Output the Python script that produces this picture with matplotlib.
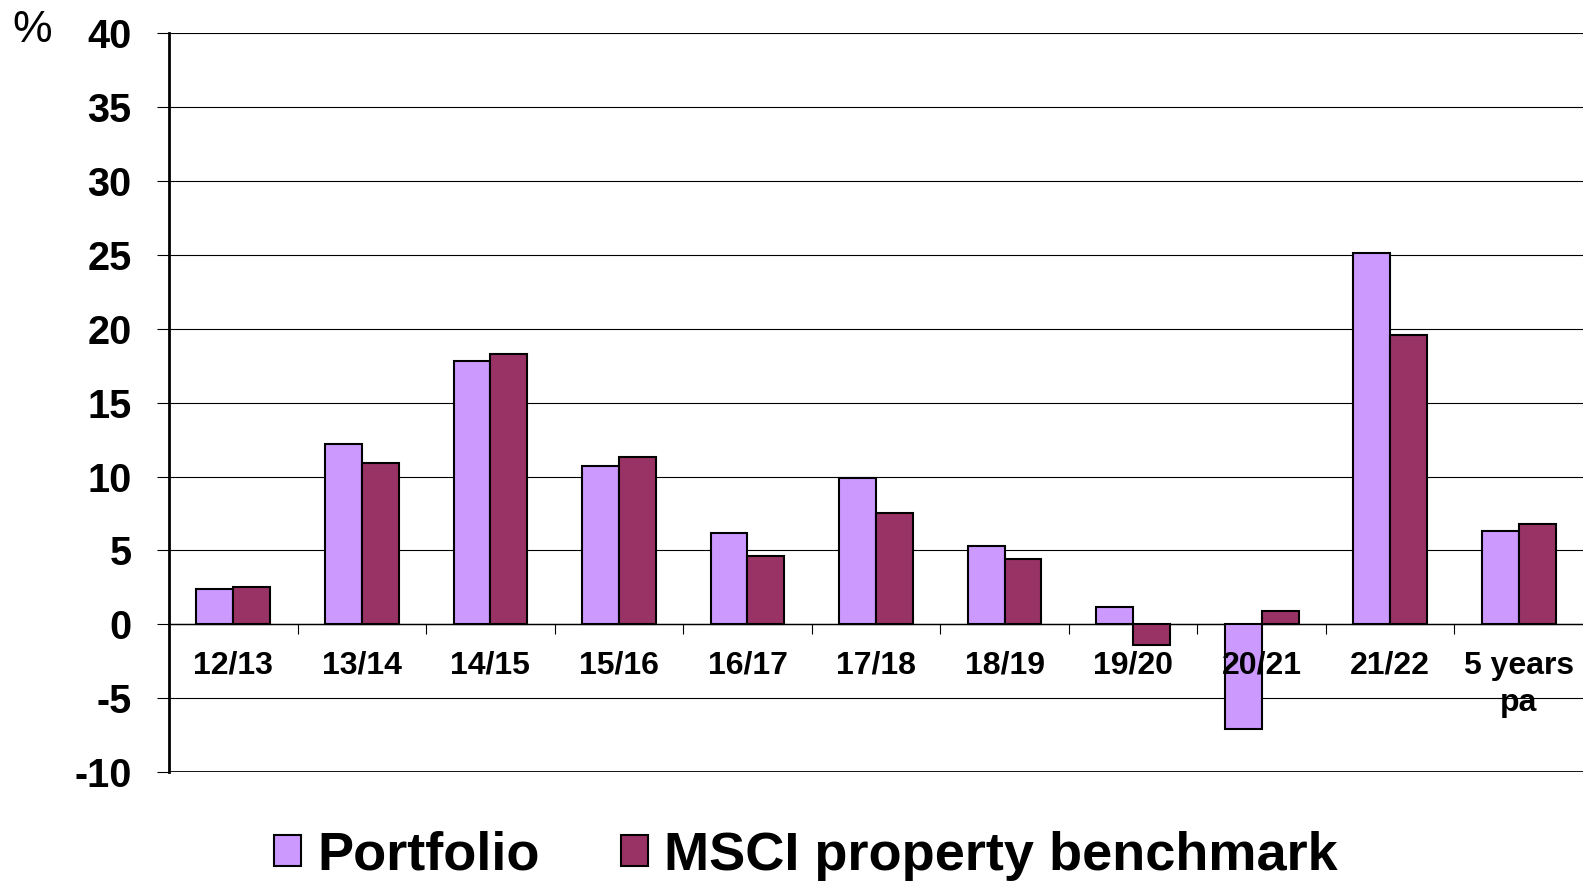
# Portfolio vs MSCI property benchmark, annual returns.
# Output: out.png

import matplotlib.pyplot as plt
import numpy as np

CATEGORIES = ["12/13", "13/14", "14/15", "15/16", "16/17", "17/18",
              "18/19", "19/20", "20/21", "21/22", "5 years\npa"]
PORTFOLIO = [2.4, 12.2, 17.8, 10.7, 6.2, 9.9, 5.3, 1.2, -7.1, 25.1, 6.3]
BENCHMARK = [2.5, 10.9, 18.3, 11.3, 4.6, 7.5, 4.4, -1.4, 0.9, 19.6, 6.8]
Y_TICKS = [-10, -5, 0, 5, 10, 15, 20, 25, 30, 35, 40]

PORTFOLIO_COLOR = "#CC99FF"
BENCHMARK_COLOR = "#993366"

plt.rcParams["font.family"] = ["Liberation Sans", "DejaVu Sans"]
plt.rcParams["font.weight"] = "bold"


def main():
    fig = plt.figure(figsize=(15.83, 8.84), dpi=100)
    ax = fig.add_axes([0.1068, 0.1267, 0.8932, 0.8356])

    x = np.arange(len(CATEGORIES))
    w = 0.287
    bar_kw = dict(edgecolor="black", linewidth=1.5, zorder=3)
    ax.bar(x - w / 2, PORTFOLIO, w, color=PORTFOLIO_COLOR, label="Portfolio", **bar_kw)
    ax.bar(x + w / 2, BENCHMARK, w, color=BENCHMARK_COLOR,
           label="MSCI property benchmark", **bar_kw)

    ax.set_xlim(-0.5, len(CATEGORIES) - 0.5)
    ax.set_ylim(-10, 40)
    ax.set_yticks(Y_TICKS)
    ax.set_yticklabels([str(t) for t in Y_TICKS], fontsize=28.5, fontweight="bold")
    ax.tick_params(axis="y", length=9, width=0.8, pad=18)

    # gridlines in black, behind the bars
    ax.grid(axis="y", color="black", linewidth=0.8)
    ax.set_axisbelow(True)
    # category labels are drawn over the bars (see 20/21)
    ax.xaxis.set_zorder(5)

    # category axis sits on the zero line
    ax.spines["bottom"].set_position(("data", 0))
    ax.spines["bottom"].set_linewidth(1.0)
    ax.spines["top"].set_visible(False)
    ax.spines["right"].set_visible(False)
    ax.spines["left"].set_linewidth(2.0)
    ax.axhline(-10, color="black", linewidth=2.0, zorder=4)
    ax.axhline(40, color="black", linewidth=1.2, zorder=4)

    ax.set_xticks(x)
    ax.set_xticklabels(CATEGORIES, fontsize=23, fontweight="bold", linespacing=1.3)
    ax.set_xticks(x[:-1] + 0.5, minor=True)
    ax.tick_params(axis="x", which="major", length=0, pad=19)
    ax.tick_params(axis="x", which="minor", length=7, width=0.8)

    fig.text(0.008, 0.966, "%", fontsize=32, fontweight="medium", va="center")

    ax.legend(loc="center", bbox_to_anchor=(0.509, 0.032),
              bbox_transform=fig.transFigure, ncol=2, frameon=False,
              prop={"size": 39, "weight": "bold"},
              handlelength=0.5, handleheight=0.5, handletextpad=0.3,
              columnspacing=1.5)

    fig.savefig("out.png", dpi=100)


if __name__ == "__main__":
    main()
